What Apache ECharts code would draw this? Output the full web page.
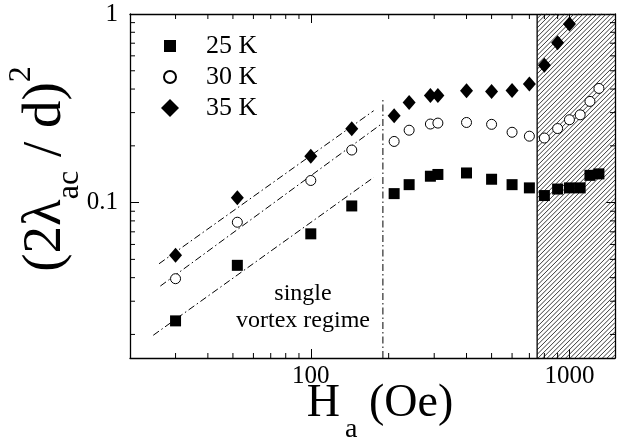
<!DOCTYPE html>
<html>
<head>
<meta charset="utf-8">
<script src="https://cdn.jsdelivr.net/npm/echarts@6/dist/echarts.min.js"></script>
<style>
  html, body { margin: 0; padding: 0; background: #fff; }
  #chart { width: 618px; height: 439px; }
</style>
</head>
<body>
<div id="chart"></div>
<script>
// applied field (Oe) of each measurement
const fieldOe = [30, 52, 100, 144, 210, 240, 290, 310, 400, 500, 600, 700, 800, 900, 1000, 1100, 1200, 1300];
// (2 lambda_ac / d)^2 at each temperature
const ratio25K = [0.0236, 0.0465, 0.0683, 0.096, 0.1116, 0.1245, 0.138, 0.141, 0.1436, 0.133, 0.1245, 0.1197, 0.109, 0.118, 0.1197, 0.1197, 0.1395, 0.142];
const ratio30K = [0.0395, 0.0787, 0.131, 0.19, 0.211, 0.242, 0.261, 0.264, 0.266, 0.26, 0.236, 0.225, 0.22, 0.247, 0.275, 0.292, 0.344, 0.403];
const ratio35K = [0.0526, 0.106, 0.176, 0.246, 0.289, 0.339, 0.37, 0.37, 0.392, 0.388, 0.393, 0.426, 0.535, 0.705, 0.885];
const tempNames = ['25 K', '30 K', '35 K'];

// single vortex fits (end points)
const fit25K = [[24.6, 0.0198], [175, 0.136]];
const fit30K = [[26.2, 0.0361], [186, 0.259]];
const fit35K = [[25.9, 0.0474], [175, 0.307]];
const crossover = [[190, 0.015], [190, 0.358]];
const hatchRange = [[750, 1500]];

const xRange = [20, 1500];
const yRange = [0.015, 1];
const xMinorTicks = [30, 40, 50, 60, 70, 80, 90, 200, 300, 400, 500, 600, 700, 800, 900];
const yMinorTicks = [0.02, 0.03, 0.04, 0.05, 0.06, 0.07, 0.08, 0.09, 0.2, 0.3, 0.4, 0.5, 0.6, 0.7, 0.8, 0.9];

const FONT = 'Liberation Serif, DejaVu Serif, serif';
const MINOR = 5;
const dashDot = [7, 3, 1.5, 3];

function isDecade(v) {
  const l = Math.log10(v);
  return Math.abs(l - Math.round(l)) < 1e-6;
}

function pairs(xs, ys) {
  return ys.map((y, i) => [xs[i], y]);
}

function minorTicks(values, dir) {
  return {
    type: 'custom',
    silent: true,
    z: 5,
    data: values.map(v => (dir === 'x' ? [v, 0.1] : [100, v])),
    renderItem(params, api) {
      const cs = params.coordSys;
      const p = api.coord([api.value(0), api.value(1)]);
      const style = { stroke: '#000', lineWidth: 1 };
      if (dir === 'x') {
        const b = cs.y + cs.height, t = cs.y;
        return { type: 'group', children: [
          { type: 'line', shape: { x1: p[0], y1: b, x2: p[0], y2: b - MINOR }, style },
          { type: 'line', shape: { x1: p[0], y1: t, x2: p[0], y2: t + MINOR }, style }
        ] };
      }
      const l = cs.x, r = cs.x + cs.width;
      return { type: 'group', children: [
        { type: 'line', shape: { x1: l, y1: p[1], x2: l + MINOR, y2: p[1] }, style },
        { type: 'line', shape: { x1: r, y1: p[1], x2: r - MINOR, y2: p[1] }, style }
      ] };
    }
  };
}

function fitLine(points) {
  return {
    type: 'line',
    data: points,
    symbol: 'none',
    silent: true,
    lineStyle: { color: '#000', width: 1, type: dashDot }
  };
}

function axisBase(pos, range) {
  return {
    type: 'log',
    logBase: 10,
    position: pos,
    min: range[0],
    max: range[1],
    splitLine: { show: false },
    axisLine: { lineStyle: { color: '#000', width: 1.3 } },
    axisTick: { inside: true, length: 9, lineStyle: { color: '#000', width: 1 } }
  };
}

const chart = echarts.init(document.getElementById('chart'));

chart.setOption({
  animation: false,
  backgroundColor: '#fff',
  grid: { left: 130, right: 2, top: 14, bottom: 81 },
  legend: {
    orient: 'vertical',
    left: 155,
    top: 28,
    itemWidth: 18,
    itemHeight: 18,
    itemGap: 5,
    selectedMode: false,
    textStyle: { fontFamily: FONT, fontSize: 26, lineHeight: 26, color: '#000', padding: [0, 0, 0, 22] },
    data: [
      { name: tempNames[0], icon: 'path://M0,0M18,18M3,3h12v12h-12z' },
      { name: tempNames[1], icon: 'path://M0,0M18,18M3,9a6,6 0 1,0 12,0a6,6 0 1,0 -12,0z' },
      { name: tempNames[2] }
    ]
  },
  xAxis: [
    Object.assign(axisBase('bottom', xRange), {
      axisLabel: {
        margin: 6,
        fontFamily: FONT, fontSize: 25, color: '#000',
        formatter: v => (isDecade(v) ? String(Math.round(v)) : '')
      }
    }),
    Object.assign(axisBase('top', xRange), { axisLabel: { show: false } })
  ],
  yAxis: [
    Object.assign(axisBase('left', yRange), {
      axisLabel: {
        margin: 12,
        fontFamily: FONT, fontSize: 25, color: '#000',
        formatter: v => (isDecade(v) ? String(v) : '')
      }
    }),
    Object.assign(axisBase('right', yRange), { axisLabel: { show: false } })
  ],
  graphic: [
    {
      type: 'text',
      x: 46, y: 169,
      rotation: Math.PI / 2,
      style: {
        text: '{m|(2λ}{s|ac}{m| / d)}{p|2}',
        align: 'center', verticalAlign: 'middle', fill: '#000',
        rich: {
          m: { fontFamily: FONT, fontSize: 55, lineHeight: 80 },
          s: { fontFamily: FONT, fontSize: 32, lineHeight: 38, verticalAlign: 'bottom' },
          p: { fontFamily: FONT, fontSize: 32, lineHeight: 32, verticalAlign: 'top' }
        }
      }
    },
    {
      type: 'text',
      x: 380, y: 404,
      style: {
        text: '{m|H}{s|a}{m| (Oe)}',
        align: 'center', verticalAlign: 'middle', fill: '#000',
        rich: {
          m: { fontFamily: FONT, fontSize: 46, lineHeight: 80 },
          s: { fontFamily: FONT, fontSize: 28, lineHeight: 35, verticalAlign: 'bottom', padding: [0, 0, 0, 5] }
        }
      }
    },
    {
      type: 'text',
      x: 303, y: 307,
      style: {
        text: 'single\nvortex regime',
        align: 'center', verticalAlign: 'middle', fill: '#000',
        fontFamily: FONT, fontSize: 24, lineHeight: 27
      }
    }
  ],
  series: [
    {
      type: 'custom',
      silent: true,
      z: 1,
      encode: { x: [0, 1] },
      data: hatchRange,
      renderItem(params, api) {
        const cs = params.coordSys;
        const x0 = api.coord([api.value(0), 0.1])[0];
        const x1 = api.coord([api.value(1), 0.1])[0];
        const top = cs.y, bottom = cs.y + cs.height;
        const children = [];
        const step = 4.6;
        for (let c = x0 + top; c <= x1 + bottom; c += step) {
          const xa = Math.max(x0, c - bottom);
          const xb = Math.min(x1, c - top);
          if (xb <= xa) continue;
          children.push({
            type: 'line',
            shape: { x1: xa, y1: c - xa, x2: xb, y2: c - xb },
            style: { stroke: '#222', lineWidth: 0.9 }
          });
        }
        children.push({
          type: 'line',
          shape: { x1: x0, y1: top, x2: x0, y2: bottom },
          style: { stroke: '#000', lineWidth: 1.3 }
        });
        return { type: 'group', children };
      }
    },
    minorTicks(xMinorTicks, 'x'),
    minorTicks(yMinorTicks, 'y'),
    fitLine(fit25K),
    fitLine(fit30K),
    fitLine(fit35K),
    fitLine(crossover),
    {
      name: tempNames[0],
      type: 'scatter',
      symbol: 'rect',
      symbolSize: 11,
      z: 4,
      itemStyle: { color: '#000', opacity: 1 },
      data: pairs(fieldOe, ratio25K)
    },
    {
      name: tempNames[1],
      type: 'scatter',
      symbol: 'circle',
      symbolSize: 10,
      z: 4,
      itemStyle: { color: '#fff', borderColor: '#000', borderWidth: 1, opacity: 1 },
      data: pairs(fieldOe, ratio30K)
    },
    {
      name: tempNames[2],
      type: 'scatter',
      symbol: 'diamond',
      symbolSize: [13, 15],
      z: 4,
      itemStyle: { color: '#000', opacity: 1 },
      data: pairs(fieldOe, ratio35K)
    }
  ]
});
</script>
</body>
</html>
